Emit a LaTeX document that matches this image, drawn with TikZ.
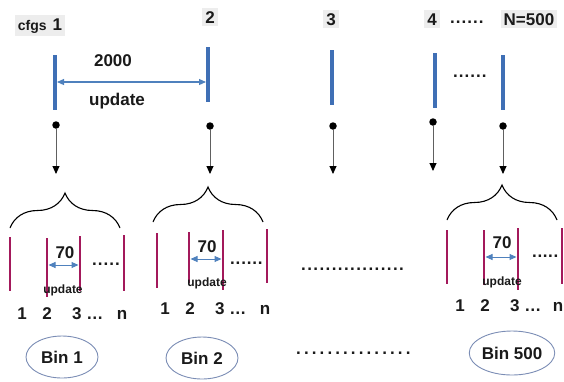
\documentclass[tikz,border=0pt]{standalone}
\usepackage{fontspec}
\setmainfont{Liberation Sans}
\usetikzlibrary{decorations.pathreplacing,arrows.meta,shapes.geometric}
\definecolor{barblue}{HTML}{3F6FB5}
\definecolor{arrblue}{HTML}{4F81BD}
\definecolor{binred}{HTML}{A3195B}
\definecolor{lbl}{HTML}{EDEDED}
\definecolor{txt}{HTML}{1A1A1A}
\definecolor{ellline}{HTML}{7B8DB5}
\newcount\dotcnt
\newcommand\dotrun[2]{\dotcnt=0 \loop .\advance\dotcnt 1 \ifnum\dotcnt<#1\kern#2\repeat}
\tikzset{
  big/.style={font=\fontsize{17}{20}\selectfont\bfseries, text=txt, inner sep=0pt},
  small/.style={font=\fontsize{12}{14}\selectfont\bfseries, text=txt, inner sep=0pt},
  tag/.style={font=\fontsize{17}{20}\selectfont\bfseries, text=txt, fill=lbl, inner xsep=3pt, inner ysep=3pt, anchor=base},
  bluebar/.style={barblue, line width=4pt},
  redbar/.style={binred, line width=2.8pt},
  span/.style={arrblue, line width=1.1pt, {Triangle[width=6pt,length=7pt]}-{Triangle[width=6pt,length=7pt]}},
  feed/.style={draw=gray!75!black, line width=0.9pt, -{Triangle[width=7pt,length=8pt,color=black]}},
  dotnode/.style={circle, fill=black, inner sep=0pt, minimum size=7.5pt},
  bracestyle/.style={decorate, decoration={brace, amplitude=35pt}, line width=1.1pt, black},
  bin/.style={ellipse, draw=ellline, fill=white, line width=0.9pt, minimum width=72pt, minimum height=42pt, font=\fontsize{17}{20}\selectfont\bfseries, text=txt, inner sep=0pt},
  dotrow/.style={font=\fontsize{17}{20}\selectfont\bfseries, text=txt, inner sep=0pt, anchor=base west}
}
\begin{document}
\begin{tikzpicture}[x=1pt,y=-1pt]
\useasboundingbox (0,0) rectangle (564,381);
% top labels
\node[tag] (t1) at (40,30) {{\fontsize{14}{17}\selectfont cfgs}\hspace{6pt}1};
\node[tag] (t2) at (210,23) {2};
\node[tag] (t3) at (331,25) {3};
\node[tag] (t4) at (432,25) {4};
\node[dotrow] (tdots) at (450,23) {\dotrun{6}{1pt}};
\node[tag] (tN) at (529,25) {N=500};
% blue bars
\coordinate (b1t) at (55,55);  \coordinate (b1b) at (55,110);
\coordinate (b2t) at (208,47); \coordinate (b2b) at (208,102);
\coordinate (b3t) at (332,50); \coordinate (b3b) at (332,105);
\coordinate (b4t) at (435,53); \coordinate (b4b) at (435,108);
\coordinate (b5t) at (503,55); \coordinate (b5b) at (503,110);
\foreach \i in {1,...,5} \draw[bluebar] (b\i t) -- (b\i b);
\coordinate (sa) at (57,82); \coordinate (sb) at (206,82);
\draw[span] (sa) -- (sb);
\node[big] (n2000) at (113,61) {2000};
\node[big] (upd) at (117,101) {update};
\node[dotrow] (mdots) at (453,77) {\dotrun{6}{1pt}};
% dots and feed arrows
\node[dotnode] (d1) at (56,125) {};
\node[dotnode] (d2) at (210,126) {};
\node[dotnode] (d3) at (333,126) {};
\node[dotnode] (d4) at (433,122) {};
\node[dotnode] (d5) at (503,126) {};
\coordinate (e1) at (56,174);
\coordinate (e2) at (210,174);
\coordinate (e3) at (333,174);
\coordinate (e4) at (433,171);
\coordinate (e5) at (503,174);
\foreach \i in {1,...,5} \draw[feed] (d\i) -- (e\i);
% braces
\coordinate (br1a) at (10,228);  \coordinate (br1b) at (120,228);
\coordinate (br2a) at (153,222); \coordinate (br2b) at (263,222);
\coordinate (br3a) at (447,220); \coordinate (br3b) at (557,220);
\draw[bracestyle] (br1a) -- (br1b);
\draw[bracestyle] (br2a) -- (br2b);
\draw[bracestyle] (br3a) -- (br3b);
% bin 1
\draw[redbar] (10,237) -- (10,291);
\draw[redbar] (47,238) -- (47,297);
\draw[redbar] (80,236) -- (80,291);
\draw[redbar] (124,235) -- (124,291);
\coordinate (a1a) at (48.5,265); \coordinate (a1b) at (78.5,265);
\draw[span, line width=1pt] (a1a) -- (a1b);
\node[big] (s70a) at (65,253) {70};
\node[small] (u1) at (63,290) {update};
\node[dotrow] (bd1) at (92,265) {\dotrun{5}{1pt}};
\node[big, anchor=base] (n11) at (22,319) {1};
\node[big, anchor=base] (n12) at (47,319) {2};
\node[big, anchor=base west] (n13) at (72,319) {3 …};
\node[big, anchor=base] (n14) at (122,319) {n};
\node[bin] (bin1) at (62,357) {Bin 1};
% bin 2
\draw[redbar] (157,233) -- (157,288);
\draw[redbar] (189,232) -- (189,283);
\draw[redbar] (223,230) -- (223,290);
\draw[redbar] (267,229) -- (267,283);
\coordinate (a2a) at (190.5,259); \coordinate (a2b) at (221.5,259);
\draw[span, line width=1pt] (a2a) -- (a2b);
\node[big] (s70b) at (207,247) {70};
\node[small] (u2) at (207,283) {update};
\node[dotrow] (bd2) at (230,264) {\dotrun{6}{0.8pt}};
\node[big, anchor=base] (n21) at (165,314) {1};
\node[big, anchor=base] (n22) at (190,314) {2};
\node[big, anchor=base west] (n23) at (215,314) {3 …};
\node[big, anchor=base] (n24) at (265,314) {n};
\node[bin] (bin2) at (202,358) {Bin 2};
% middle dots
\node[dotrow] (ld1) at (301,270) {\dotrun{17}{1.4pt}};
\node[dotrow] (ld2) at (296,354) {\dotrun{15}{3.1pt}};
% bin 500
\draw[redbar] (447,230) -- (447,284);
\draw[redbar] (484,230) -- (484,285);
\draw[redbar] (518,228) -- (518,290);
\draw[redbar] (562,228) -- (562,284);
\coordinate (a3a) at (485.5,257); \coordinate (a3b) at (516.5,257);
\draw[span, line width=1pt] (a3a) -- (a3b);
\node[big] (s70c) at (502,243) {70};
\node[small] (u3) at (502,282) {update};
\node[dotrow] (bd3) at (532,257) {\dotrun{5}{0.6pt}};
\node[big, anchor=base] (n31) at (460,311) {1};
\node[big, anchor=base] (n32) at (485,311) {2};
\node[big, anchor=base west] (n33) at (510,311) {3 …};
\node[big, anchor=base] (n34) at (558,311) {n};
\node[bin, minimum width=74pt, minimum height=44pt] (bin3) at (512,353) {Bin 500};
\end{tikzpicture}
\end{document}
